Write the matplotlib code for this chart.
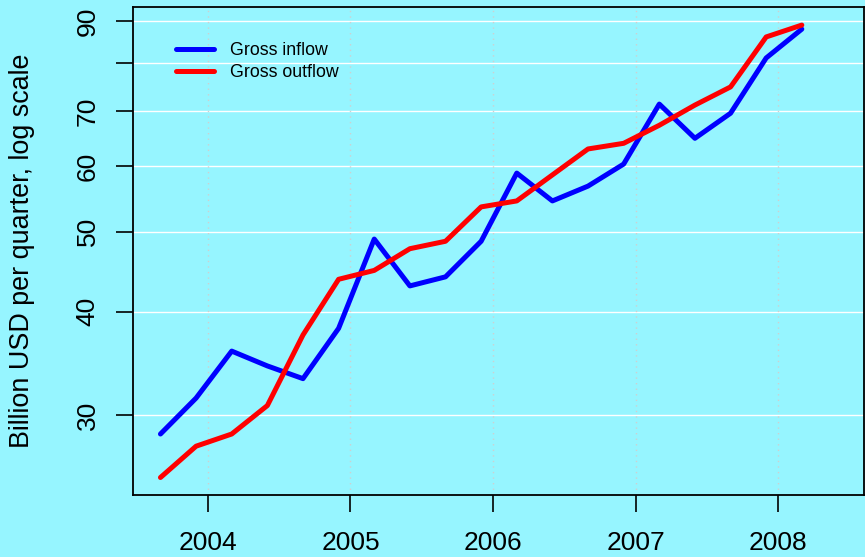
import numpy as np
import matplotlib
matplotlib.use("Agg")
from matplotlib import pyplot as plt
from matplotlib.ticker import NullLocator, FixedLocator

plt.rcParams['font.family'] = ['Liberation Sans', 'DejaVu Sans']

# quarterly observations, Q3 2003 .. Q1 2008
t = 2003 + 2/3 + 0.25*np.arange(19)
inflow = [28.45, 31.45, 35.85, 34.4, 33.2, 38.2, 49.0, 43.0, 44.1, 48.7,
          58.9, 54.5, 56.8, 60.4, 71.4, 64.9, 69.6, 81.2, 88.0]
outflow = [25.2, 27.5, 28.45, 30.8, 37.5, 43.8, 44.9, 47.7, 48.7, 53.6,
           54.5, 58.6, 63.0, 64.0, 67.3, 71.2, 74.9, 86.1, 89.0]
years = [2004, 2005, 2006, 2007, 2008]
yticks = [30, 40, 50, 60, 70, 80, 90]
ylabels = ['30', '40', '50', '60', '70', '', '90']

bg = '#96F5FF'
fig = plt.figure(figsize=(8.65, 5.57), dpi=100, facecolor=bg)
ax = fig.add_axes([133/865, 62/557, 731/865, 488/557], facecolor=bg)

ax.set_yscale('log')
ax.set_ylim(24.0, 93.6)
ax.set_xlim(2003.474, 2008.603)

# grid
for y in yticks:
    ax.axhline(y, color='white', lw=1.0, zorder=1)
for x in years:
    ax.axvline(x, color='#cfcfcf', lw=1.0, ls=(0, (1, 3)), zorder=1)

ax.plot(t, inflow, color='#0000FF', lw=3.6, label='Gross inflow', zorder=3,
        solid_capstyle='round', solid_joinstyle='round')
ax.plot(t, outflow, color='#FF0000', lw=3.6, label='Gross outflow', zorder=3,
        solid_capstyle='round', solid_joinstyle='round')

ax.yaxis.set_major_locator(FixedLocator(yticks))
ax.yaxis.set_minor_locator(NullLocator())
ax.set_yticklabels(ylabels)
ax.set_xticks(years)
ax.set_xticklabels([str(y) for y in years])

ax.tick_params(axis='both', length=12, width=1.2, labelsize=19, direction='out')
ax.tick_params(axis='x', pad=14)
ax.tick_params(axis='y', pad=12)
for lab in ax.get_yticklabels():
    lab.set_rotation(90)
    lab.set_va('center')

for s in ax.spines.values():
    s.set_linewidth(1.3)

fig.text(22/865, 0.549, 'Billion USD per quarter, log scale', rotation=90,
         ha='center', va='center', fontsize=19.4)

leg = ax.legend(loc='upper left', bbox_to_anchor=(0.0375, 0.961), frameon=False,
                fontsize=12.8, handlelength=2.1, handletextpad=0.9,
                labelspacing=0.3)

fig.savefig('out.png', dpi=100, facecolor=bg)
